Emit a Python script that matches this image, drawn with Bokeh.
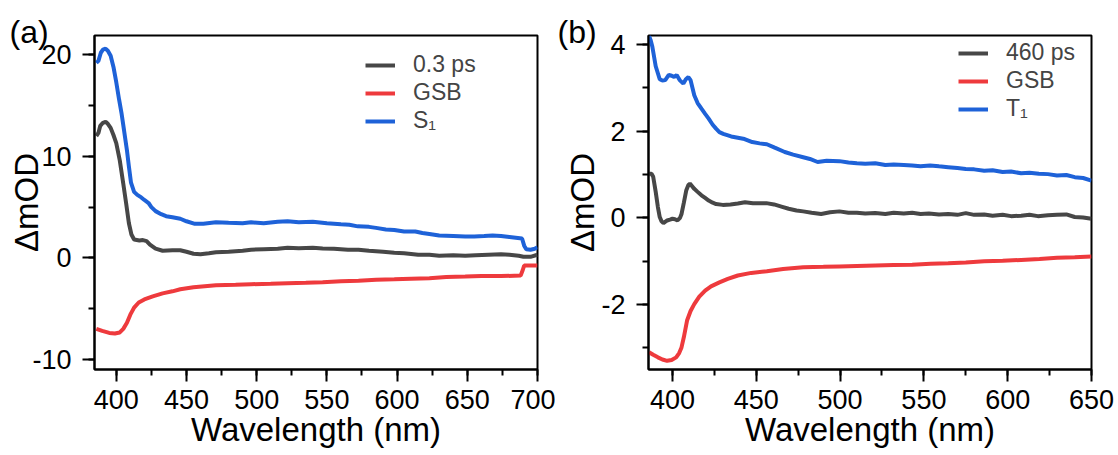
from bokeh.plotting import figure
from bokeh.layouts import row
from bokeh.models import (Range1d, SingleIntervalTicker, Legend, LegendItem,
                          PrintfTickFormatter)
from bokeh.embed import file_html
from bokeh.resources import INLINE

# ---------------- Panel (a) data ----------------
a_s1_wl = [385.8, 387.3, 389, 390.5, 392.4, 394, 396, 398, 400, 402, 403.8, 405.5, 407.6, 409, 410.5,
           412.7, 415, 417.8, 420, 423, 425, 428, 432, 435.5, 440, 445.6, 450, 456, 462, 471, 480, 490,
           496, 505, 515, 522, 530, 540, 550, 560, 566, 572, 580, 585, 592, 598, 605, 613, 618, 623, 630,
           640, 648.5, 655, 662, 668, 674, 680, 686, 689, 690.5, 692, 695, 698, 700]
a_s1 = [19.2, 19.4, 20.2, 20.5, 20.6, 20.4, 19.9, 18.8, 17.3, 15.6, 14.2, 12.6, 10.6, 9.0, 7.4,
        6.5, 6.2, 5.95, 5.7, 5.4, 5.0, 4.6, 4.3, 4.1, 4.0, 3.85, 3.6, 3.35, 3.35, 3.5, 3.45, 3.4,
        3.5, 3.4, 3.55, 3.6, 3.5, 3.55, 3.4, 3.3, 3.25, 3.1, 3.05, 2.95, 2.8, 2.75, 2.6, 2.6, 2.45, 2.35, 2.2,
        2.15, 2.1, 2.1, 2.15, 2.2, 2.15, 2.05, 1.95, 1.9, 1.2, 0.85, 0.8, 0.9, 1.05]

a_ps_wl = [385.8, 387.3, 388.6, 390.5, 392.4, 394, 396, 398, 400, 402.5, 405, 407, 409, 410.8, 412.7,
           416.5, 419, 421.6, 424, 428, 433, 440, 445.6, 450, 455, 460, 466, 471, 480, 490, 496, 505,
           515, 522, 530, 540, 547, 555, 565, 572.5, 580, 590, 598, 605, 615, 623, 630, 640, 648.5,
           656, 665, 674, 680, 686.6, 690, 695, 700]
a_ps = [12.0, 12.3, 13.0, 13.3, 13.4, 13.2, 12.8, 12.1, 11.3, 9.6, 7.3, 5.4, 3.4, 2.3, 1.8,
        1.7, 1.75, 1.65, 1.3, 0.9, 0.7, 0.75, 0.75, 0.6, 0.4, 0.35, 0.45, 0.55, 0.6, 0.7, 0.8, 0.85,
        0.9, 1.0, 0.95, 1.0, 0.93, 0.9, 0.8, 0.8, 0.7, 0.6, 0.5, 0.45, 0.3, 0.3, 0.2, 0.25, 0.2,
        0.25, 0.3, 0.35, 0.3, 0.2, 0.1, 0.1, 0.3]

a_gsb_wl = [385.8, 390, 395, 399, 402.5, 405, 407.6, 410, 412.7, 416, 420, 426, 433, 440, 445.6, 455,
            471, 485, 496, 510, 522, 535, 547, 560, 572.5, 585, 598, 610, 623, 635, 648.5, 660, 674,
            688, 689.5, 690.5, 695, 700]
a_gsb = [-7.0, -7.2, -7.4, -7.45, -7.35, -7.0, -6.4, -5.6, -4.9, -4.4, -4.1, -3.8, -3.5, -3.3, -3.1, -2.9,
         -2.7, -2.65, -2.6, -2.55, -2.5, -2.45, -2.4, -2.3, -2.25, -2.15, -2.1, -2.05, -2.0, -1.9, -1.85, -1.8, -1.8,
         -1.75, -1.2, -0.76, -0.75, -0.76]

# ---------------- Panel (b) data ----------------
b_t1_wl = [386, 387, 388, 390, 392.4, 394, 395.7, 397.8, 399.5, 401, 402.5, 404.3, 406.5, 408, 409.5,
           410.8, 413, 415, 417.3, 419.5, 421.6, 424, 426, 428, 430.3, 435, 439, 443, 447.6, 452, 456.3,
           461, 467, 472, 478, 482, 486.6, 492, 499.6, 505, 510, 515, 521, 527, 532, 538, 543, 548,
           553.7, 559, 564.5, 570, 575, 580, 586, 591, 597, 602, 608, 613, 618.6, 624, 629.4, 635, 640,
           645, 650]
b_t1 = [4.2, 4.1, 3.95, 3.5, 3.2, 3.17, 3.18, 3.3, 3.28, 3.25, 3.3, 3.18, 3.1, 3.2, 3.25,
        3.18, 2.83, 2.65, 2.52, 2.4, 2.29, 2.15, 2.06, 1.98, 1.94, 1.88, 1.85, 1.82, 1.75, 1.72, 1.70,
        1.62, 1.52, 1.46, 1.40, 1.36, 1.29, 1.32, 1.31, 1.28, 1.26, 1.25, 1.26, 1.22, 1.23, 1.22, 1.21, 1.19,
        1.21, 1.19, 1.17, 1.15, 1.13, 1.12, 1.09, 1.10, 1.06, 1.07, 1.03, 1.04, 1.02, 1.01, 0.98, 0.99, 0.94,
        0.92, 0.86]

b_ps_wl = [386, 387.5, 388.5, 390, 391.3, 392.4, 393.5, 394.6, 396, 396.8, 398.5, 400, 401.5, 403, 404.5,
           405.4, 406.8, 408.2, 409.5, 410.4, 411.5, 413, 415, 417.3, 419.5, 421.6, 424, 426, 430, 434.6,
           439, 443.3, 448, 452, 456, 460.6, 465, 469.3, 474, 478, 483, 488.7, 494, 499.6, 505, 510, 515,
           521, 527, 532, 538, 543, 548, 553, 559, 564.5, 570, 575, 580, 586, 591, 597, 602, 608, 613,
           618, 624, 629.4, 635, 640, 645, 650]
b_ps = [1.02, 1.02, 0.95, 0.6, 0.25, 0.02, -0.08, -0.12, -0.08, -0.06, -0.04, -0.02, -0.03, -0.06, 0.0,
        0.09, 0.35, 0.63, 0.76, 0.79, 0.74, 0.67, 0.6, 0.52, 0.46, 0.40, 0.35, 0.32, 0.30, 0.31,
        0.33, 0.36, 0.34, 0.34, 0.34, 0.31, 0.26, 0.21, 0.17, 0.15, 0.12, 0.09, 0.13, 0.15, 0.12, 0.12, 0.10,
        0.11, 0.09, 0.12, 0.10, 0.12, 0.09, 0.10, 0.08, 0.09, 0.07, 0.11, 0.07, 0.08, 0.05, 0.07, 0.04, 0.05, 0.07,
        0.04, 0.06, 0.07, 0.08, 0.02, 0.01, -0.02]

b_gsb_wl = [386, 388.5, 391.3, 394, 396.8, 399.5, 402.2, 404, 405.4, 406.8, 408.7, 410.8, 413, 416, 419.5,
            423, 428, 433, 439, 447, 456.3, 466, 478, 490, 499.6, 510, 521, 532, 543, 554, 564.5, 575,
            586, 597, 608, 619, 629.4, 640, 650]
b_gsb = [-3.1, -3.16, -3.22, -3.27, -3.3, -3.28, -3.22, -3.12, -2.99, -2.75, -2.37, -2.15, -1.99, -1.82, -1.68,
         -1.58, -1.49, -1.41, -1.33, -1.27, -1.23, -1.18, -1.14, -1.13, -1.12, -1.11, -1.10, -1.09, -1.08, -1.06, -1.05, -1.03,
         -1.0, -0.99, -0.97, -0.95, -0.92, -0.91, -0.89]

labels_a = ["0.3 ps", "GSB", "S\u2081"]
labels_b = ["460 ps", "GSB", "T\u2081"]

GRAY = "#474747"
RED = "#ee3a3d"
BLUE = "#1e62d8"
FONT = "Liberation Sans"


def make_panel(width, xr, yr, xint, yint, border_left, border_right, series, labels, leg_loc,
               tag, tag_offset, label_standoff_y):
    p = figure(width=width, height=455, output_backend="svg", toolbar_location=None,
               x_range=Range1d(*xr), y_range=Range1d(*yr),
               min_border_left=border_left, min_border_right=border_right,
               min_border_top=35, min_border_bottom=86)
    p.grid.visible = False
    p.outline_line_color = "black"
    p.outline_line_width = 2
    p.background_fill_color = "white"
    p.border_fill_color = "white"
    p.xaxis.ticker = SingleIntervalTicker(interval=xint, num_minor_ticks=2)
    p.yaxis.ticker = SingleIntervalTicker(interval=yint, num_minor_ticks=2)
    p.xaxis.formatter = PrintfTickFormatter(format="%d")
    p.yaxis.formatter = PrintfTickFormatter(format="%d")
    for ax in (p.xaxis[0], p.yaxis[0]):
        ax.axis_line_width = 2
        ax.major_tick_line_width = 2
        ax.minor_tick_line_width = 2
        ax.major_tick_in = 0
        ax.major_tick_out = 12
        ax.minor_tick_in = 0
        ax.minor_tick_out = 6
        ax.major_label_text_font = FONT
        ax.major_label_text_font_size = "27px"
        ax.major_label_text_color = "black"
        ax.axis_label_text_font = FONT
        ax.axis_label_text_font_size = "33px"
        ax.axis_label_text_font_style = "normal"
        ax.axis_label_text_color = "black"
    p.xaxis.axis_label = "Wavelength (nm)"
    p.yaxis.axis_label = "\u0394mOD"
    p.xaxis.major_label_standoff = 8
    p.xaxis.axis_label_standoff = -1
    p.yaxis.major_label_standoff = 11
    p.yaxis.axis_label_standoff = label_standoff_y

    # panel tag as the figure title
    p.title.text = tag
    p.title.align = "left"
    p.title.offset = tag_offset
    p.title.standoff = -28
    p.title.text_font = FONT
    p.title.text_font_size = "32px"
    p.title.text_font_style = "normal"
    p.title.text_color = "black"

    items = []
    for (wl, vals, col), lab in zip(series, labels):
        r = p.line(wl, vals, line_color=col, line_width=4)
        items.append(LegendItem(label=lab, renderers=[r]))
    leg = Legend(items=items, location=leg_loc, label_text_font=FONT, label_text_font_size="23px",
                 glyph_width=30, glyph_height=22, label_height=22, spacing=1, padding=0, margin=0,
                 label_standoff=18, border_line_color=None, background_fill_alpha=0)
    p.add_layout(leg)
    return p


pa = make_panel(555, (384.5, 700), (-11.0, 21.9), 50, 10, 94, 18,
                [(a_ps_wl, a_ps, GRAY), (a_gsb_wl, a_gsb, RED), (a_s1_wl, a_s1, BLUE)],
                labels_a, (271, 235), "(a)", -85, -16)
pb = make_panel(563, (385.7, 650), (-3.5, 4.21), 50, 2, 93, 27,
                [(b_ps_wl, b_ps, GRAY), (b_gsb_wl, b_gsb, RED), (b_t1_wl, b_t1, BLUE)],
                labels_b, (310, 247), "(b)", -91, -3)

layout = row(pa, pb)
open("out.html", "w").write(file_html(layout, INLINE))
